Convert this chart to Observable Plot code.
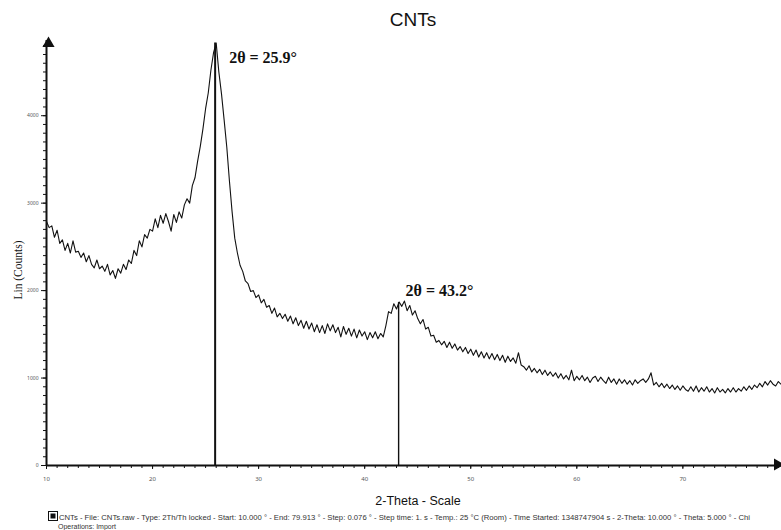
<!DOCTYPE html>
<html>
<head>
<meta charset="utf-8">
<script src="https://cdn.jsdelivr.net/npm/d3@7"></script>
<script src="https://cdn.jsdelivr.net/npm/@observablehq/plot@0.6"></script>
<style>
  html, body { margin: 0; padding: 0; background: #fff; }
  #chart { position: relative; width: 781px; height: 530px; overflow: hidden; font-family: "Liberation Sans", Arial, sans-serif; }
  #chart svg { position: absolute; left: 0; top: 0; }
  .title { position: absolute; left: 0; width: 826px; top: 9px; text-align: center; font-size: 19px; color: #111; }
  .xlabel { position: absolute; left: 0; width: 836px; top: 494px; text-align: center; font-size: 12.5px; color: #111; }
  .ylabel { position: absolute; left: 18px; top: 270px; transform: translate(-50%, -50%) rotate(-90deg); font-family: "Liberation Serif", "Times New Roman", serif; font-size: 11.5px; color: #111; white-space: nowrap; }
  .footer { position: absolute; left: 48px; top: 511px; font-size: 7.7px; color: #333; white-space: nowrap; line-height: 9px; }
  .footer .icon { display: inline-block; width: 8px; height: 8px; background: #111; border: 1px solid #111; vertical-align: -1px; margin-right: 1px; box-shadow: inset 0 0 0 1.5px #fff, inset 0 0 0 3px #111; }
  .footer .ops { font-size: 7px; padding-left: 10px; color: #333; }
</style>
</head>
<body>
<div id="chart">
  <div class="title">CNTs</div>
  <div class="ylabel">Lin (Counts)</div>
  <div class="xlabel">2-Theta - Scale</div>
  <div class="footer"><span class="icon"></span>CNTs - File: CNTs.raw - Type: 2Th/Th locked - Start: 10.000 ° - End: 79.913 ° - Step: 0.076 ° - Step time: 1. s - Temp.: 25 °C (Room) - Time Started: 1348747904 s - 2-Theta: 10.000 ° - Theta: 5.000 ° - Chi<br><span class="ops">Operations: Import</span></div>
</div>
<script>
// Scan settings (2-theta, degrees)
const thetaStart = 10.0;
const thetaStep = 0.25;

// Intensity (counts) along the scan, one row per 2.5 degrees
const counts = [
  2790, 2720, 2740, 2610, 2690, 2540, 2580, 2460, 2540, 2430,
  2570, 2440, 2450, 2380, 2430, 2330, 2400, 2300, 2260, 2350,
  2250, 2280, 2220, 2300, 2180, 2230, 2140, 2250, 2200, 2300,
  2240, 2350, 2310, 2460, 2400, 2570, 2500, 2640, 2600, 2700,
  2680, 2820, 2720, 2860, 2770, 2880, 2790, 2680, 2870, 2780,
  2900, 2830, 2980, 3050, 3000, 3200, 3290, 3480, 3650, 3850,
  4080, 4260, 4520, 4720, 4830, 4500, 4250, 3950, 3640, 3250,
  2900, 2600, 2430, 2290, 2220, 2110, 2080, 1990, 2000, 1920,
  1950, 1860, 1900, 1810, 1830, 1740, 1800, 1700, 1740, 1680,
  1730, 1650, 1710, 1620, 1690, 1600, 1660, 1570, 1650, 1560,
  1630, 1530, 1610, 1520, 1600, 1510, 1620, 1540, 1610, 1520,
  1580, 1470, 1590, 1500, 1570, 1480, 1560, 1460, 1550, 1480,
  1530, 1440, 1520, 1460, 1530, 1450, 1510, 1470, 1600, 1760,
  1740, 1850, 1790, 1870, 1820, 1880, 1770, 1830, 1720, 1770,
  1680, 1620, 1670, 1560, 1580, 1480, 1490, 1410, 1430, 1380,
  1420, 1350, 1410, 1340, 1390, 1320, 1360, 1300, 1350, 1280,
  1330, 1260, 1320, 1240, 1300, 1230, 1290, 1220, 1280, 1210,
  1270, 1200, 1260, 1180, 1250, 1190, 1230, 1170, 1290, 1150,
  1130, 1090, 1140, 1070, 1110, 1060, 1100, 1040, 1090, 1030,
  1070, 1020, 1060, 1000, 1050, 990, 1030, 980, 1090, 970,
  1020, 980, 1030, 970, 1010, 950, 1000, 1020, 960, 1010,
  970, 940, 1010, 950, 990, 930, 990, 940, 980, 930,
  970, 920, 980, 940, 970, 990, 950, 990, 1060, 920,
  950, 900, 940, 890, 930, 880, 920, 870, 910, 860,
  910, 870, 850, 900, 850, 910, 840, 890, 850, 900,
  840, 880, 830, 890, 840, 870, 830, 880, 840, 890,
  840, 880, 850, 900, 860, 910, 870, 920, 890, 940,
  900, 960, 920, 970, 930, 910, 960, 930
];

// Marked reflections
const peakTheta = [25.9, 43.2];
const peakCounts = [4830, 1863];
const peakLabels = ["2θ = 25.9°", "2θ = 43.2°"];

// Axis ticks
const xMajorTicks = [10, 20, 30, 40, 50, 60, 70];
const yMajorTicks = [0, 1000, 2000, 3000, 4000];

const xDomain = [10, 79.3];
const yDomain = [0, 4860];

const scan = counts.map((c, i) => ({theta: thetaStart + i * thetaStep, counts: c}));
const peaks = peakTheta.map((t, i) => ({theta: t, counts: peakCounts[i], label: peakLabels[i]}));

const labelFont = {fontFamily: "Liberation Serif, Times New Roman, serif", fontWeight: "bold", fontSize: 16, fill: "#111", textAnchor: "start"};

const chart = Plot.plot({
  width: 781,
  height: 530,
  marginLeft: 46,
  marginRight: 0,
  marginTop: 40,
  marginBottom: 65,
  style: {background: "transparent", overflow: "visible"},
  x: {domain: xDomain, label: null},
  y: {domain: yDomain, label: null},
  marks: [
    // minor ticks
    Plot.axisX(d3.range(10, 80, 1), {tickSize: 3, tickFormat: () => "", label: null, stroke: "#111"}),
    Plot.axisY(d3.range(0, 4900, 100), {tickSize: 3, tickFormat: () => "", label: null, stroke: "#111"}),
    // major ticks with labels
    Plot.axisX(xMajorTicks, {tickSize: 4, tickPadding: 7, fontSize: 6, tickFormat: d3.format("d"), label: null, stroke: "#111", color: "#555"}),
    Plot.axisY(yMajorTicks, {tickSize: 5, tickPadding: 3, fontSize: 5, tickFormat: d3.format("d"), label: null, stroke: "#111", color: "#555"}),
    // diffraction pattern
    Plot.line(scan, {x: "theta", y: "counts", stroke: "#111", strokeWidth: 1.1}),
    // reflection markers
    Plot.ruleX([peaks[0]], {x: "theta", y1: 0, y2: "counts", stroke: "#111", strokeWidth: 2}),
    Plot.ruleX([peaks[1]], {x: "theta", y1: 0, y2: "counts", stroke: "#111", strokeWidth: 1.4}),
    Plot.text([peaks[0]], {x: "theta", y: "counts", text: "label", dx: 14, dy: 15, ...labelFont}),
    Plot.text([peaks[1]], {x: "theta", y: "counts", text: "label", dx: 7, dy: -12, ...labelFont}),
    // axis lines with arrow heads
    Plot.ruleX([xDomain[0]], {y1: 0, y2: yDomain[1], stroke: "#111", strokeWidth: 2}),
    Plot.ruleY([0], {stroke: "#111", strokeWidth: 2}),
    Plot.dot([{x: xDomain[0], y: yDomain[1]}], {x: "x", y: "y", symbol: "triangle", r: 4.5, fill: "#111", dx: 2, dy: 3}),
    Plot.dot([{x: xDomain[1], y: 0}], {x: "x", y: "y", symbol: "triangle", r: 4.5, fill: "#111", rotate: 90, dx: -4, dy: -1})
  ]
});

document.getElementById("chart").appendChild(chart);
</script>
</body>
</html>
